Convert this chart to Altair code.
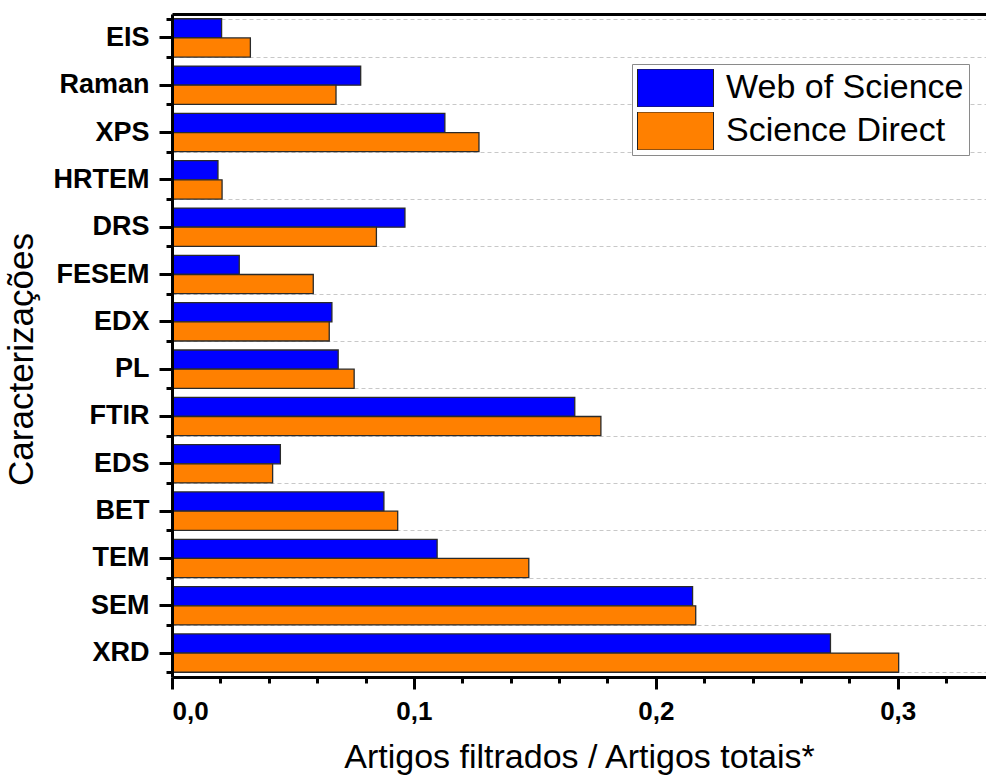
import altair as alt
import pandas as pd

# Characterisation techniques, listed top to bottom
categories = ["EIS", "Raman", "XPS", "HRTEM", "DRS", "FESEM", "EDX",
              "PL", "FTIR", "EDS", "BET", "TEM", "SEM", "XRD"]

# Filtered articles / total articles for each database
web_of_science = [0.0205, 0.0780, 0.1128, 0.0190, 0.0963, 0.0278, 0.0661,
                  0.0687, 0.1665, 0.0448, 0.0876, 0.1096, 0.2152, 0.2722]
science_direct = [0.0324, 0.0678, 0.1269, 0.0207, 0.0845, 0.0584, 0.0650,
                  0.0753, 0.1773, 0.0416, 0.0933, 0.1475, 0.2165, 0.3004]

sources = ["Web of Science", "Science Direct"]
colors = ["#0000FF", "#FF8000"]

x_major = [0.0, 0.1, 0.2, 0.3]
x_minor = [0.02, 0.04, 0.06, 0.08, 0.12, 0.14, 0.16, 0.18,
           0.22, 0.24, 0.26, 0.28, 0.32]

rows = []
for cat, wos, sd in zip(categories, web_of_science, science_direct):
    rows.append({"Caracterização": cat, "Fonte": sources[0], "Razão": wos})
    rows.append({"Caracterização": cat, "Fonte": sources[1], "Razão": sd})
df = pd.DataFrame(rows)

FONT = "Liberation Sans"
x_scale = alt.Scale(domain=[0, 0.3365], nice=False, zero=True)
y_scale = alt.Scale(paddingInner=0.19, paddingOuter=0.1)

base = alt.Chart(df)

# Main layer: the bars, category axis, value axis and legend
bars = base.mark_bar(stroke="#2a2a2a", strokeWidth=1.3).encode(
    x=alt.X("Razão:Q", scale=x_scale, axis=alt.Axis(
        values=x_major,
        labelExpr="replace(format(datum.value, '.1f'), '.', ',')",
        labelFont=FONT, labelFontSize=26, labelFontWeight="bold",
        labelColor="black", labelPadding=9,
        tickSize=12, tickWidth=3, tickColor="black",
        domainWidth=3, domainColor="black",
        grid=False, zindex=1,
        title="Artigos filtrados / Artigos totais*",
        titleFont=FONT, titleFontSize=34, titleFontWeight="normal",
        titleColor="black", titlePadding=16,
    )),
    y=alt.Y("Caracterização:N", sort=categories, scale=y_scale, axis=alt.Axis(
        orient="left",
        labelFont=FONT, labelFontSize=27, labelFontWeight="bold",
        labelColor="black", labelPadding=10,
        tickSize=13, tickWidth=3, tickColor="black",
        domainWidth=3, domainColor="black",
        grid=False, zindex=1,
        title="Caracterizações",
        titleFont=FONT, titleFontSize=35, titleFontWeight="normal",
        titleColor="black", titlePadding=14, titleY=345,
    )),
    yOffset=alt.YOffset("Fonte:N", sort=sources),
    color=alt.Color("Fonte:N", sort=sources,
                    scale=alt.Scale(domain=sources, range=colors),
                    legend=alt.Legend(
                        orient="none", legendX=460, legendY=50, title=None,
                        symbolType="M-1,-0.5H1V0.5H-1Z", symbolSize=5776,
                        clipHeight=38, rowPadding=5,
                        symbolStrokeColor="#222222", symbolStrokeWidth=1,
                        symbolOpacity=1,
                        labelFont=FONT, labelFontSize=34, labelColor="black",
                        labelLimit=400, labelOffset=12,
                        padding=5, strokeColor="#8a8a8a", fillColor="white",
                    )),
)

# Minor ticks on the value axis, dashed separators between categories
minor = base.mark_bar(opacity=0).encode(
    x=alt.X("Razão:Q", scale=x_scale, axis=alt.Axis(
        orient="bottom", values=x_minor, labels=False, domain=False,
        tickSize=6, tickWidth=3, tickColor="black", grid=False, title=None,
    )),
    y=alt.Y("Caracterização:N", sort=categories, scale=y_scale, axis=alt.Axis(
        orient="left", tickBand="extent", labels=False, domain=False,
        tickSize=6, tickWidth=3, tickColor="black",
        grid=True, gridDash=[4, 3], gridColor="#c8c8c8", gridWidth=1,
        title=None,
    )),
    yOffset=alt.YOffset("Fonte:N", sort=sources),
)

# Top frame line
frame = base.mark_bar(opacity=0).encode(
    x=alt.X("Razão:Q", scale=x_scale, axis=alt.Axis(
        orient="top", labels=False, ticks=False, grid=False, title=None,
        domain=True, domainWidth=3, domainColor="black",
    )),
    y=alt.Y("Caracterização:N", sort=categories, scale=y_scale, axis=None),
    yOffset=alt.YOffset("Fonte:N", sort=sources),
)

chart = alt.layer(bars, minor, frame).resolve_axis(
    x="independent", y="independent"
).properties(
    width=814, height=663,
    padding={"left": 172, "top": 14, "right": 0, "bottom": 103},
    autosize=alt.AutoSizeParams(type="none"),
).configure_view(stroke=None).configure(font=FONT, background="white")

chart.save("out.html", embed_options={"renderer": "svg", "actions": False})
